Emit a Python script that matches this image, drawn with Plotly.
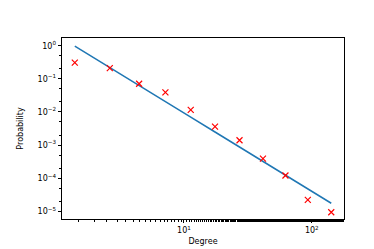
import plotly.graph_objects as go

degree = [1.40, 2.63, 4.46, 7.16, 11.3, 17.5, 27.2, 41.5, 62.2, 93.1, 142]
probability = [0.31, 0.21, 0.071, 0.039, 0.0115, 0.0036, 0.0014, 3.9e-4, 1.2e-4, 2.2e-5, 9.3e-6]
fit = [0.97, 0.223, 0.064, 0.0208, 0.0070, 0.00248, 8.8e-4, 3.2e-4, 1.24e-4, 4.75e-5, 1.74e-5]

x_tickvals = [10, 100]
x_ticktext = ["10<sup>1</sup>", "10<sup>2</sup>"]
y_tickvals = [1, 1e-1, 1e-2, 1e-3, 1e-4, 1e-5]
y_ticktext = ["10<sup>0</sup>", "10<sup>−1</sup>", "10<sup>−2</sup>", "10<sup>−3</sup>",
              "10<sup>−4</sup>", "10<sup>−5</sup>"]

fig = go.Figure()
fig.add_trace(go.Scatter(x=degree, y=fit, mode="lines",
                         line=dict(color="#1f77b4", width=1.5), showlegend=False))
fig.add_trace(go.Scatter(x=degree, y=probability, mode="markers",
                         marker=dict(symbol="x-thin", size=6, color="red",
                                     line=dict(color="red", width=1.2)),
                         showlegend=False))

font = dict(family="DejaVu Sans", size=8, color="black")
fig.update_layout(
    width=374, height=249,
    margin=dict(l=46, r=38, t=30, b=33),
    paper_bgcolor="white", plot_bgcolor="white",
    font=font,
    xaxis=dict(type="log", range=[0.046, 2.252], tickvals=x_tickvals, ticktext=x_ticktext,
               ticks="outside", ticklen=3.5, tickwidth=0.8, tickcolor="black",
               showline=True, linecolor="black", linewidth=0.8, mirror=True,
               showgrid=False, zeroline=False, tickfont=font,
               minor=dict(ticks="outside", ticklen=2, tickwidth=0.6, tickcolor="black", showgrid=False),
               title=dict(text="Degree", font=font, standoff=4)),
    yaxis=dict(type="log", range=[-5.235, 0.235], tickvals=y_tickvals, ticktext=y_ticktext,
               ticks="outside", ticklen=3.5, tickwidth=0.8, tickcolor="black",
               showline=True, linecolor="black", linewidth=0.8, mirror=True,
               showgrid=False, zeroline=False, tickfont=font,
               minor=dict(ticks="outside", ticklen=2, tickwidth=0.6, tickcolor="black", showgrid=False),
               title=dict(text="Probability", font=font, standoff=12)),
)
fig.write_html("out.html")
